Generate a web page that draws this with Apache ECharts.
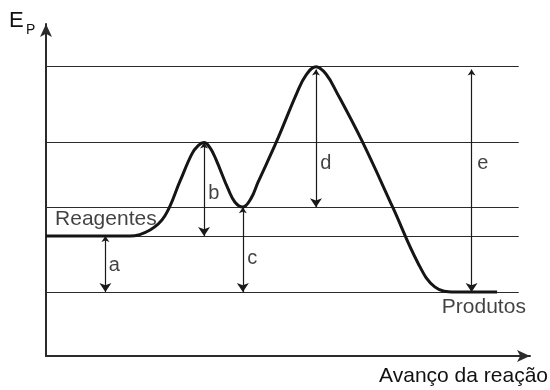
<!DOCTYPE html>
<html>
<head>
<meta charset="utf-8">
<script src="https://cdn.jsdelivr.net/npm/echarts@6/dist/echarts.min.js"></script>
<style>
html, body { margin: 0; padding: 0; background: #fff; }
#main { width: 550px; height: 390px; }
</style>
</head>
<body>
<div id="main"></div>
<script>
// perfil de energia: x = avanço da reação, y = energia potencial (unidades arbitrárias)
var curveX = [0, 17.1, 21.2, 24.2, 27.3, 29.7, 31.0, 32.2, 33.4, 34.6, 37.1, 38.5, 40.1, 41.8, 43.2, 47.0, 51.1, 53.0, 55.0, 57.0, 59.3, 64.4, 70.7, 75.8, 79.2, 83.3, 91.9];
var curveY = [35.4, 35.4, 37.2, 41.3, 51.6, 59.6, 62.1, 63.0, 61.5, 58.1, 49.3, 45.4, 44.0, 46.6, 51.3, 63.4, 77.6, 83.0, 85.4, 83.3, 77.6, 63.4, 43.7, 27.4, 20.4, 18.9, 18.9];

// níveis horizontais
var levelY = [85.4, 63.2, 43.9, 35.4, 18.9];
var levelEnd = 96.3;

// setas duplas
var arrowNames = ['a', 'b', 'c', 'd', 'e'];
var arrowX = [12.1, 32.2, 40.1, 55.0, 86.7];
var arrowTop = [35.4, 63.0, 43.9, 84.6, 84.6];
var arrowBottom = [18.9, 35.4, 18.9, 43.9, 18.9];

// textos
var labelText = ['a', 'b', 'c', 'd', 'e', 'Reagentes', 'Produtos'];
var labelX = [13.9, 34.2, 42.0, 57.0, 89.0, 12.2, 89.2];
var labelY = [26.7, 48.0, 28.9, 56.9, 56.9, 40.4, 14.5];

var xMax = 98.6, yMax = 98;
var ink = '#2b2b2b';
var font = 'Liberation Sans, Arial, sans-serif';

var curveData = curveX.map(function (x, i) { return [x, curveY[i]]; });
var levelData = levelY.map(function (y) { return { coords: [[0, y], [levelEnd, y]] }; });
var arrowData = arrowX.map(function (x, i) {
	return { name: arrowNames[i], coords: [[x, arrowTop[i]], [x, arrowBottom[i]]] };
});
var labelData = labelText.map(function (t, i) {
	return { name: t, value: [labelX[i], labelY[i]], label: { fontSize: t.length > 1 ? 21 : 20 } };
});

var chart = echarts.init(document.getElementById('main'));
chart.setOption({
	animation: false,
	backgroundColor: '#fff',
	grid: { left: 46, top: 24, width: 484, height: 332 },
	xAxis: {
		type: 'value', min: 0, max: xMax,
		axisLine: { show: true, symbol: ['none', 'arrow'], symbolSize: [9, 13], lineStyle: { color: ink, width: 2 } },
		axisTick: { show: false }, axisLabel: { show: false }, splitLine: { show: false }
	},
	yAxis: {
		type: 'value', min: 0, max: yMax,
		axisLine: { show: true, symbol: ['none', 'arrow'], symbolSize: [9, 13], lineStyle: { color: ink, width: 2 } },
		axisTick: { show: false }, axisLabel: { show: false }, splitLine: { show: false }
	},
	series: [
		{
			type: 'lines', coordinateSystem: 'cartesian2d', silent: true,
			symbol: 'none',
			lineStyle: { color: ink, width: 1.2, opacity: 1 },
			data: levelData
		},
		{
			type: 'lines', coordinateSystem: 'cartesian2d', silent: true,
			symbol: ['arrow', 'arrow'], symbolSize: [6, 9],
			lineStyle: { color: '#1a1a1a', width: 1.2, opacity: 1 },
			data: arrowData
		},
		{
			type: 'line', data: curveData, smooth: 0.4, showSymbol: false, silent: true,
			lineStyle: { color: '#151515', width: 3 }
		},
		{
			type: 'scatter', data: labelData, symbolSize: 0, silent: true,
			label: {
				show: true, position: 'inside', formatter: '{b}',
				color: '#111', fontSize: 20, fontFamily: font
			}
		}
	],
	graphic: [
		{ type: 'text', left: 9, top: 10, style: { text: 'E', fontSize: 22, fontFamily: font, fill: '#111' } },
		{ type: 'text', left: 26, top: 23, style: { text: 'P', fontSize: 14, fontFamily: font, fill: '#111' } },
		{ type: 'text', right: 2, top: 366, style: { text: 'Avanço da reação', fontSize: 21, fontFamily: font, fill: '#111' } }
	]
});
</script>
</body>
</html>
